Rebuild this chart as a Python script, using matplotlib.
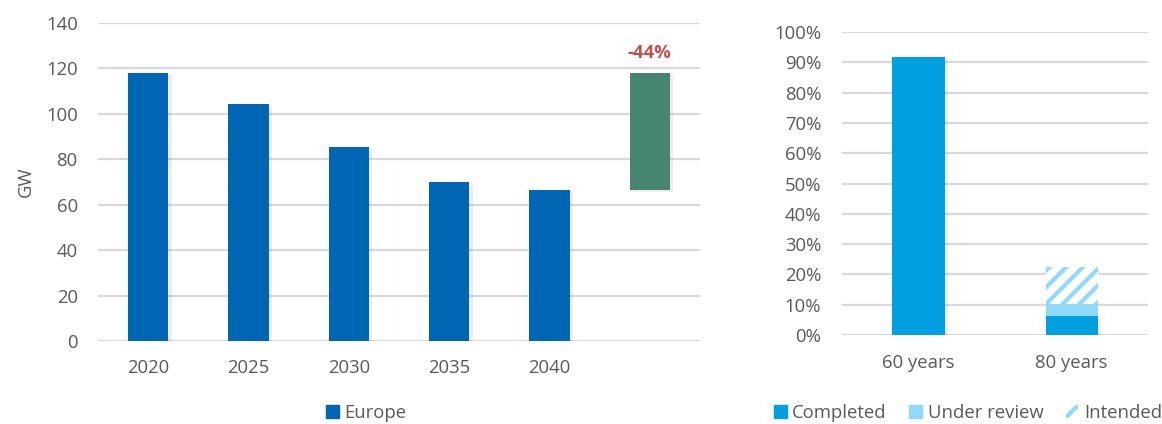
import matplotlib
matplotlib.use("Agg")
import matplotlib.pyplot as plt
import matplotlib.patches as mpatches
import matplotlib.patheffects as pe
import numpy as np

# ── data ──────────────────────────────────────────────────────────
years = ["2020", "2025", "2030", "2035", "2040"]
europe_gw = [118.0, 104.2, 85.3, 69.8, 66.4]
drop_label = "-44%"

ages = ["60 years", "80 years"]
completed = [91.6, 6.3]
under_review = [0.0, 3.9]
intended = [0.0, 12.2]

# ── style ─────────────────────────────────────────────────────────
plt.rcParams["font.family"] = ["Open Sans", "DejaVu Sans"]
plt.rcParams["hatch.linewidth"] = 3.0
TXT = "#595959"
GRID = "#d9d9d9"
BLUE = "#0066b3"
GREEN = "#458572"
RED = "#c0504d"
C_DONE = "#009fe0"
C_REV = "#8fd9fa"
FS = 13.3

shadow = [pe.SimplePatchShadow(offset=(2.5, -1.5), shadow_rgbFace="#000000", alpha=0.07),
          pe.Normal()]

fig = plt.figure(figsize=(11.62, 4.24), dpi=100)
fig.patch.set_facecolor("white")


def clean(ax):
    for s in ax.spines.values():
        s.set_visible(False)
    ax.tick_params(length=0, colors=TXT, labelsize=FS)
    ax.yaxis.grid(True, color=GRID, lw=1.6)
    ax.set_axisbelow(True)


# ── left: installed capacity ─────────────────────────────────────
ax1 = fig.add_axes([0.0843, 0.1958, 0.5181, 0.75])
clean(ax1)
x = np.arange(len(years) + 1)
ax1.bar(x[:-1], europe_gw, width=0.4, color=BLUE, path_effects=shadow, zorder=3)
top, bottom = europe_gw[0], europe_gw[-1]
ax1.bar(x[-1], top - bottom, bottom=bottom, width=0.4, color=GREEN,
        path_effects=shadow, zorder=3)
ax1.text(x[-1], top + 5, drop_label, ha="center", va="bottom",
         color=RED, fontsize=FS, fontweight="bold")
ax1.set_xlim(-0.5, len(years) + 0.5)
ax1.set_ylim(0, 140)
ax1.set_yticks(np.arange(0, 141, 20))
ax1.set_xticks(x)
ax1.set_xticklabels(years + [""])
ax1.tick_params(axis="x", pad=13)
ax1.tick_params(axis="y", pad=14.5)
ax1.set_ylabel("GW", color=TXT, fontsize=FS, labelpad=8)

fig.legend(handles=[mpatches.Patch(color=BLUE, label="Europe")],
           loc="center", bbox_to_anchor=(366 / 1162, 1 - 413 / 424),
           frameon=False, fontsize=FS, labelcolor=TXT,
           handlelength=0.7, handleheight=0.7, handletextpad=0.3)

# ── right: licence extension status ──────────────────────────────
ax2 = fig.add_axes([0.7246, 0.2099, 0.2634, 0.7146])
clean(ax2)
xr = np.arange(len(ages))
w = 0.34
ax2.bar(xr, completed, width=w, color=C_DONE, path_effects=shadow, zorder=3)
ax2.bar(xr, under_review, width=w, bottom=completed, color=C_REV, zorder=3)
base = np.array(completed) + np.array(under_review)
ax2.bar(xr, intended, width=w, bottom=base, facecolor="white",
        edgecolor=C_REV, hatch="//", lw=0, zorder=3)
ax2.set_xlim(-0.5, 1.5)
ax2.set_ylim(0, 100)
ax2.set_yticks(np.arange(0, 101, 10))
ax2.set_yticklabels([f"{v}%" for v in range(0, 101, 10)])
ax2.set_xticks(xr)
ax2.set_xticklabels(ages)
ax2.tick_params(axis="x", pad=14)
ax2.tick_params(axis="y", pad=15)

handles = [
    mpatches.Patch(color=C_DONE, label="Completed"),
    mpatches.Patch(color=C_REV, label="Under review"),
    mpatches.Patch(facecolor="white", edgecolor=C_REV, hatch="//", lw=0, label="Intended"),
]
fig.legend(handles=handles, loc="center", bbox_to_anchor=(968 / 1162, 1 - 413 / 424),
           ncol=3, frameon=False, fontsize=FS, labelcolor=TXT,
           handlelength=0.7, handleheight=0.7, handletextpad=0.3, columnspacing=1.2)

fig.savefig("out.png", dpi=100, facecolor="white")
